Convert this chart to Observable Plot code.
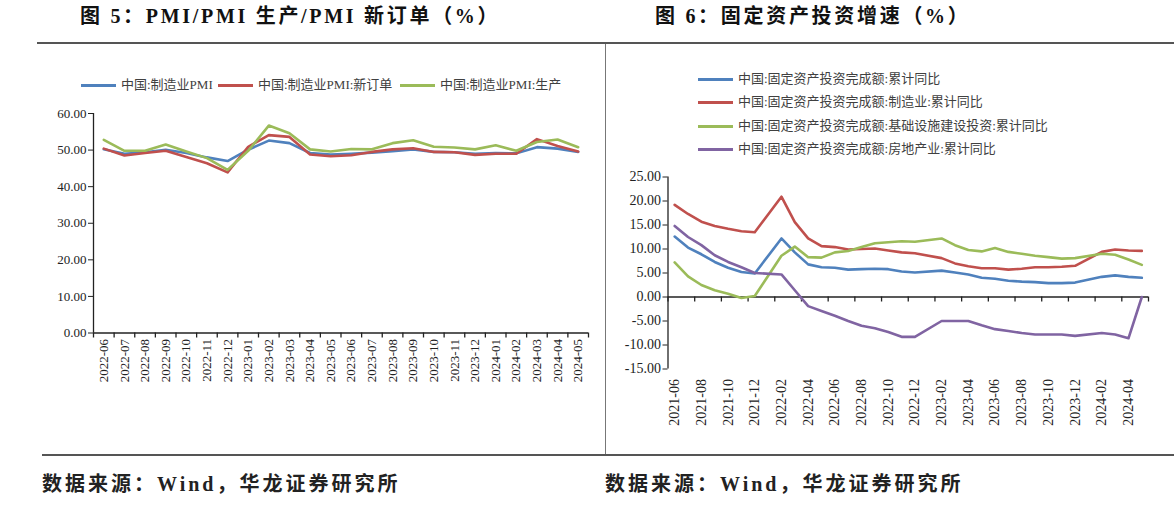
<!DOCTYPE html>
<html><head><meta charset="utf-8">
<script src="https://cdn.jsdelivr.net/npm/d3@7"></script>
<script src="https://cdn.jsdelivr.net/npm/@observablehq/plot@0.6"></script>
<style>
body{margin:0;width:1174px;height:506px;background:#fff;position:relative;overflow:hidden;font-family:"Liberation Serif","Noto Sans CJK SC",serif;}
.abs{position:absolute;white-space:nowrap;}
.title{font-weight:bold;font-size:20px;color:#111;line-height:24px;top:4px;letter-spacing:2.7px;}
.foot{font-weight:bold;font-size:20px;color:#222;line-height:24px;top:472px;letter-spacing:3px;}
.leg{display:flex;align-items:center;font-size:13px;color:#404040;line-height:16px;}
.leg i{display:inline-block;width:35px;height:3px;margin-right:5px;}
.hr{background:#555;height:2px;}
#left,#right{position:absolute;}
</style></head>
<body>
<div class="abs title" style="left:80px;">图 5：PMI/PMI 生产/PMI 新订单（%）</div>
<div class="abs title" style="left:655px;">图 6：固定资产投资增速（%）</div>
<div class="abs hr" style="left:37px;top:42px;width:1137px;"></div>
<div class="abs" style="left:605px;top:44px;width:1px;height:411px;background:#777;"></div>
<div class="abs hr" style="left:42px;top:454px;width:1132px;"></div>
<div class="abs foot" style="left:42px;">数据来源：Wind，华龙证券研究所</div>
<div class="abs foot" style="left:605px;">数据来源：Wind，华龙证券研究所</div>
<div id="legL"></div>
<div id="legR"></div>
<div id="left"></div>
<div id="right"></div>
<script>
// ---- Figure 5 data ----
const pmiMonths = ["2022-06","2022-07","2022-08","2022-09","2022-10","2022-11","2022-12","2023-01","2023-02","2023-03","2023-04","2023-05","2023-06","2023-07","2023-08","2023-09","2023-10","2023-11","2023-12","2024-01","2024-02","2024-03","2024-04","2024-05"];
const pmi = [50.2,49.0,49.4,50.1,49.2,48.0,47.0,50.1,52.6,51.9,49.2,48.8,49.0,49.3,49.7,50.2,49.5,49.4,49.0,49.2,49.1,50.8,50.4,49.5];
const pmiNewOrders = [50.4,48.5,49.2,49.8,48.1,46.4,43.9,50.9,54.1,53.6,48.8,48.3,48.6,49.5,50.2,50.5,49.5,49.4,48.7,49.0,49.0,53.0,51.1,49.6];
const pmiProduction = [52.8,49.8,49.8,51.5,49.6,47.8,44.6,49.8,56.7,54.6,50.2,49.6,50.3,50.2,51.9,52.7,50.9,50.7,50.2,51.3,49.8,52.2,52.9,50.8];
const pmiNames = ["中国:制造业PMI","中国:制造业PMI:新订单","中国:制造业PMI:生产"];
const pmiTicks = [0,10,20,30,40,50,60];

// ---- Figure 6 data ----
const faiMonths = ["2021-06","2021-07","2021-08","2021-09","2021-10","2021-11","2021-12",
 "2022-01","2022-02","2022-03","2022-04","2022-05","2022-06","2022-07","2022-08","2022-09","2022-10","2022-11","2022-12",
 "2023-01","2023-02","2023-03","2023-04","2023-05","2023-06","2023-07","2023-08","2023-09","2023-10","2023-11","2023-12",
 "2024-01","2024-02","2024-03","2024-04","2024-05"];
const faiTotal = [12.6,10.3,8.9,7.3,6.1,5.2,4.9, null,12.2,9.3,6.8,6.2,6.1,5.7,5.8,5.9,5.8,5.3,5.1, null,5.5,5.1,4.7,4.0,3.8,3.4,3.2,3.1,2.9,2.9,3.0, null,4.2,4.5,4.2,4.0];
const faiManufacturing = [19.2,17.3,15.7,14.8,14.2,13.7,13.5, null,20.9,15.6,12.2,10.6,10.4,9.9,10.0,10.1,9.7,9.3,9.1, null,8.1,7.0,6.4,6.0,6.0,5.7,5.9,6.2,6.2,6.3,6.5, null,9.4,9.9,9.7,9.6];
const faiInfrastructure = [7.2,4.3,2.5,1.4,0.7,-0.2,0.2, null,8.6,10.5,8.3,8.2,9.3,9.6,10.4,11.2,11.4,11.6,11.5, null,12.2,10.8,9.8,9.5,10.2,9.4,9.0,8.6,8.3,8.0,8.1, null,9.0,8.8,7.8,6.7];
const faiRealEstate = [14.8,12.5,10.8,8.7,7.3,6.2,5.0, null,4.7,1.4,-1.9,-2.9,-3.9,-5.0,-6.0,-6.5,-7.3,-8.3,-8.3, null,-5.0,-5.0,-5.0,-5.9,-6.7,-7.1,-7.5,-7.8,-7.8,-7.8,-8.1, null,-7.5,-7.8,-8.6,0];
const faiNames = ["中国:固定资产投资完成额:累计同比","中国:固定资产投资完成额:制造业:累计同比","中国:固定资产投资完成额:基础设施建设投资:累计同比","中国:固定资产投资完成额:房地产业:累计同比"];
const faiTicks = [-15,-10,-5,0,5,10,15,20,25];

const colors = ["#4F81BD","#C0504D","#9BBB59","#8064A2"];

function rows(values, name) {
  return values.map((v,i)=>({x:i+0.5, y:v, s:name})).filter(d=>d.y!=null);
}
const fmt = d => d.toFixed(2);
const style = {fontFamily:"'Liberation Serif','Noto Sans CJK SC',serif", fontSize:"13px", color:"#222", background:"transparent", overflow:"visible"};

// ---- left chart ----
const leftSeries = [pmi, pmiNewOrders, pmiProduction];
const left = Plot.plot({
  width:560, height:300, marginLeft:53, marginRight:12, marginTop:13, marginBottom:67.5,
  style,
  x:{type:"linear", domain:[0,pmiMonths.length], axis:null},
  y:{domain:[0,60], axis:null},
  marks:[
    Plot.axisY({ticks:pmiTicks, tickFormat:fmt, tickSize:5, tickPadding:2, label:null}),
    Plot.ruleX([0], {stroke:"#222", strokeWidth:1.3}),
    Plot.ruleY([0], {stroke:"#222", strokeWidth:1.3}),
    Plot.ruleX(d3.range(0, pmiMonths.length+1), {x:d=>d, y1:0, y2:0, insetBottom:-5, stroke:"#222", strokeWidth:1.3}),
    Plot.text(pmiMonths, {x:(d,i)=>i+0.5, y:0, text:d=>d, rotate:-90, textAnchor:"end", dy:6, fontSize:13}),
    ...leftSeries.map((s,k)=>Plot.line(rows(s, pmiNames[k]), {x:"x", y:"y", stroke:colors[k], strokeWidth:2.6}))
  ]
});
const L = document.getElementById("left");
L.style.left="40px"; L.style.top="100px";
L.appendChild(left);

// ---- right chart ----
const rightSeries = [faiTotal, faiManufacturing, faiInfrastructure, faiRealEstate];
const labelIdx = d3.range(0, faiMonths.length, 2);
const right = Plot.plot({
  width:574, height:285, marginLeft:67.5, marginRight:26, marginTop:16.5, marginBottom:76.5,
  style:{...style, fontSize:"14px"},
  x:{type:"linear", domain:[0,faiMonths.length], axis:null},
  y:{domain:[-15,25], axis:null},
  marks:[
    Plot.axisY({ticks:faiTicks, tickFormat:fmt, tickSize:5, tickPadding:2, label:null}),
    Plot.ruleX([0], {stroke:"#222", strokeWidth:1.3}),
    Plot.ruleY([0], {stroke:"#222", strokeWidth:1.3}),
    Plot.ruleX(d3.range(0, faiMonths.length+1, 2), {x:d=>d, y1:0, y2:0, insetBottom:-5, stroke:"#222", strokeWidth:1.3}),
    Plot.text(labelIdx, {x:i=>i+0.5, y:-15, text:i=>faiMonths[i], rotate:-90, textAnchor:"end", dy:10, fontSize:14}),
    ...rightSeries.map((s,k)=>Plot.line(rows(s, faiNames[k]), {x:"x", y:"y", stroke:colors[k], strokeWidth:2.6}))
  ]
});
const R = document.getElementById("right");
R.style.left="600px"; R.style.top="160px";
R.appendChild(right);

// ---- legends ----
const legL = document.getElementById("legL");
const lpos = [81, 218, 400];
pmiNames.forEach((n,k)=>{
  const d = document.createElement("div");
  d.className="abs leg"; d.style.left=lpos[k]+"px"; d.style.top="77px";
  d.innerHTML = `<i style="background:${colors[k]}"></i><span>${n}</span>`;
  legL.appendChild(d);
});
const legR = document.getElementById("legR");
const rtop = [71, 94, 118, 141];
faiNames.forEach((n,k)=>{
  const d = document.createElement("div");
  d.className="abs leg"; d.style.left="698px"; d.style.top=rtop[k]+"px";
  d.innerHTML = `<i style="background:${colors[k]}"></i><span>${n}</span>`;
  legR.appendChild(d);
});
</script>
</body></html>
